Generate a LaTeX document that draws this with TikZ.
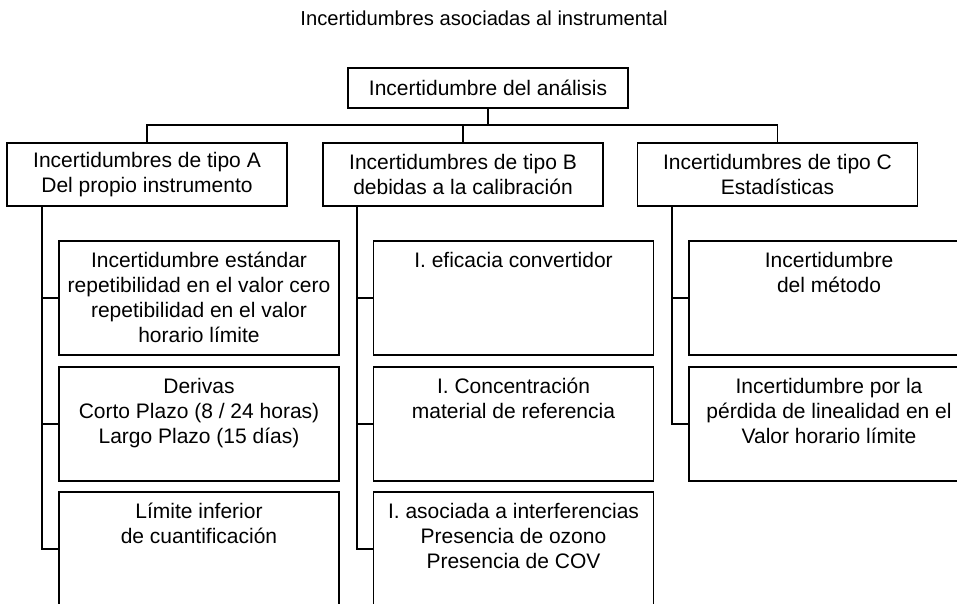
\documentclass[tikz,border=0pt]{standalone}
\usepackage{fontspec}
\setmainfont{Liberation Sans}
\newcommand{\hoja}[1]{\parbox[c][114pt][t]{280pt}{\centering\vspace*{11pt}#1}}
\begin{document}
\begin{tikzpicture}[x=1pt,y=-1pt,line width=1.4pt,
	caja/.style={draw,inner sep=0pt,align=center,font=\fontsize{21}{25}\selectfont},
	cabeza/.style={caja,minimum width=280pt,minimum height=63pt}]

	\useasboundingbox (0,0) rectangle (957,604);
	\clip (0,0) rectangle (957,604);

	\node (titulo) at (484,18) {\fontsize{20.2}{25}\selectfont Incertidumbres asociadas al instrumental};
	\node[caja,minimum width=280pt,minimum height=40pt] (raiz) at (488,88) {Incertidumbre del análisis};

	\node[cabeza] (tipoA) at (147,174.5) {Incertidumbres de tipo A\\Del propio instrumento};
	\node[cabeza] (tipoB) at (463,174.5) {Incertidumbres de tipo B\\debidas a la calibración};
	\node[cabeza] (tipoC) at (777.5,174.5) {Incertidumbres de tipo C\\Estadísticas};

	\node[caja] (a1) at (199,298) {\hoja{Incertidumbre estándar\\repetibilidad en el valor cero\\repetibilidad en el valor\\horario límite}};
	\node[caja] (a2) at (199,424) {\hoja{Derivas\\Corto Plazo (8 / 24 horas)\\Largo Plazo (15 días)}};
	\node[caja] (a3) at (199,549) {\hoja{Límite inferior\\de cuantificación}};

	\node[caja] (b1) at (513.5,298) {\hoja{I. eficacia convertidor}};
	\node[caja] (b2) at (513.5,424) {\hoja{I. Concentración\\material de referencia}};
	\node[caja] (b3) at (513.5,549) {\hoja{I. asociada a interferencias\\Presencia de ozono\\Presencia de COV}};

	\node[caja] (c1) at (829,298) {\hoja{Incertidumbre\\del método}};
	\node[caja] (c2) at (829,424) {\hoja{Incertidumbre por la\\pérdida de linealidad en el\\Valor horario límite}};

	% barra de la raiz
	\coordinate (bus) at (488,125);
	\draw (raiz.south) -- (bus);
	\draw (tipoA.north) -- (tipoA.north |- bus) -- (tipoC.north |- bus) -- (tipoC.north);
	\draw (tipoB.north) -- (tipoB.north |- bus);

	% ejes de cada tipo
	\coordinate (ejeA) at (42,206);
	\coordinate (ejeB) at (357,206);
	\coordinate (ejeC) at (672,206);
	\draw (ejeA) |- (a3.west);
	\draw (ejeB) |- (b3.west);
	\draw (ejeC) |- (c2.west);
	\foreach \n in {a1,a2} \draw (ejeA |- \n.west) -- (\n.west);
	\foreach \n in {b1,b2} \draw (ejeB |- \n.west) -- (\n.west);
	\draw (ejeC |- c1.west) -- (c1.west);

\end{tikzpicture}
\end{document}
